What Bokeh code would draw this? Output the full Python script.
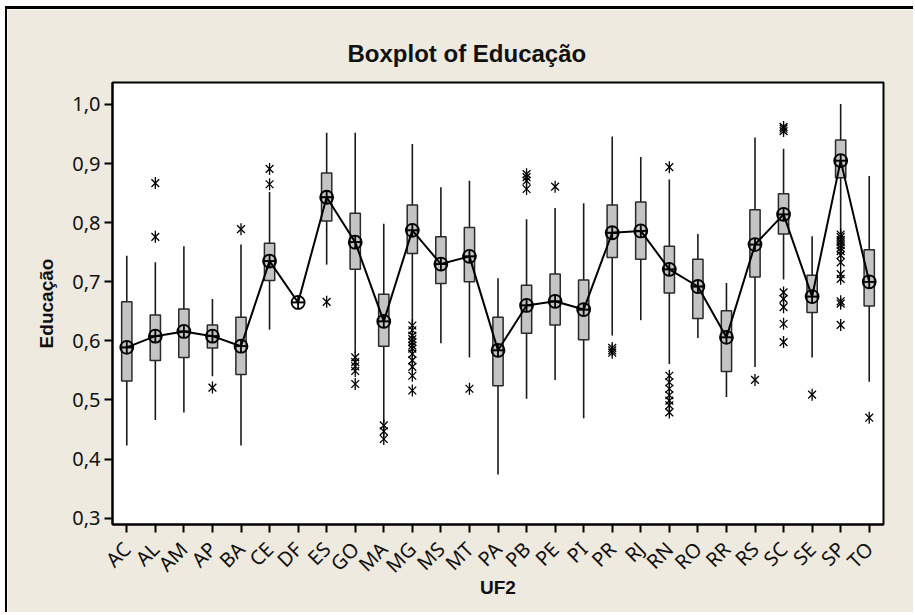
import math
from bokeh.plotting import figure
from bokeh.models import FactorRange, Range1d, FixedTicker, CustomJSTickFormatter, ColumnDataSource
from bokeh.embed import file_html
from bokeh.resources import INLINE

NaN = float("nan")

categories = ["AC", "AL", "AM", "AP", "BA", "CE", "DF", "ES", "GO", "MA", "MG", "MS", "MT", "PA",
              "PB", "PE", "PI", "PR", "RJ", "RN", "RO", "RR", "RS", "SC", "SE", "SP", "TO"]

whisker_low = [0.423, 0.466, 0.479, 0.540, 0.423, 0.619, NaN, 0.729, 0.579, 0.462, 0.626, 0.596, 0.572, 0.374,
               0.502, 0.534, 0.469, 0.609, 0.635, 0.561, 0.605, 0.505, 0.556, 0.704, 0.572, 0.781, 0.531]
q1 = [0.532, 0.567, 0.572, 0.588, 0.543, 0.702, NaN, 0.803, 0.721, 0.591, 0.748, 0.697, 0.700, 0.524,
      0.613, 0.627, 0.602, 0.741, 0.738, 0.681, 0.638, 0.548, 0.708, 0.781, 0.648, 0.876, 0.659]
median = [0.589, 0.608, 0.616, 0.608, 0.591, 0.735, 0.665, 0.843, 0.767, 0.633, 0.787, 0.730, 0.743, 0.584,
          0.660, 0.667, 0.653, 0.783, 0.786, 0.721, 0.692, 0.606, 0.763, 0.814, 0.675, 0.905, 0.700]
q3 = [0.666, 0.644, 0.654, 0.627, 0.640, 0.765, NaN, 0.884, 0.816, 0.679, 0.830, 0.776, 0.792, 0.640,
      0.694, 0.713, 0.703, 0.830, 0.835, 0.760, 0.738, 0.651, 0.822, 0.849, 0.711, 0.940, 0.754]
whisker_high = [0.744, 0.733, 0.760, 0.671, 0.763, 0.852, NaN, 0.952, 0.952, 0.798, 0.933, 0.860, 0.871, 0.706,
                0.806, 0.825, 0.833, 0.946, 0.911, 0.873, 0.781, 0.698, 0.944, 0.925, 0.777, 1.001, 0.879]
means = [0.589, 0.608, 0.616, 0.608, 0.591, 0.735, 0.665, 0.843, 0.767, 0.633, 0.787, 0.730, 0.743, 0.584,
         0.660, 0.667, 0.653, 0.783, 0.786, 0.721, 0.692, 0.606, 0.763, 0.814, 0.675, 0.905, 0.700]

outlier_cat = (["AL"] * 2 + ["AP"] + ["BA"] + ["CE"] * 2 + ["ES"] + ["GO"] * 5 + ["MA"] * 3 + ["MG"] * 12 +
               ["MT"] + ["PB"] * 4 + ["PE"] + ["PR"] * 3 + ["RN"] * 8 + ["RS"] + ["SC"] * 8 + ["SE"] +
               ["SP"] * 14 + ["TO"])
outlier_val = ([0.867, 0.776] + [0.521] + [0.789] + [0.891, 0.865] + [0.666] +
               [0.572, 0.564, 0.557, 0.549, 0.527] + [0.457, 0.447, 0.434] +
               [0.626, 0.618, 0.609, 0.603, 0.598, 0.592, 0.587, 0.578, 0.567, 0.556, 0.541, 0.516] +
               [0.519] + [0.882, 0.877, 0.871, 0.857] + [0.861] + [0.588, 0.584, 0.580] +
               [0.894, 0.541, 0.530, 0.519, 0.508, 0.499, 0.491, 0.479] + [0.534] +
               [0.962, 0.959, 0.955, 0.682, 0.671, 0.657, 0.629, 0.598] + [0.509] +
               [0.780, 0.776, 0.771, 0.767, 0.762, 0.757, 0.752, 0.745, 0.733, 0.713, 0.705, 0.667, 0.663, 0.627] +
               [0.470])

y_ticks = [0.3, 0.4, 0.5, 0.6, 0.7, 0.8, 0.9, 1.0]

BEIGE = "#EEEAE0"
TICK_FONT = "Noto Sans"
LABEL_FONT = "Liberation Sans"

p = figure(width=908, height=606, x_range=FactorRange(*categories), y_range=Range1d(0.2893, 1.0372),
           output_backend="svg", toolbar_location=None,
           min_border_left=105, min_border_right=32, min_border_top=73, min_border_bottom=91,
           border_fill_color=BEIGE, background_fill_color="white",
           outline_line_color="black", outline_line_width=2,
           margin=(6, 0, 0, 5),
           styles={"border-top": "3px solid #000", "border-left": "2px solid #000"})

p.title.text = "Boxplot of Educação"
p.title.text_font = LABEL_FONT
p.title.text_font_size = "24px"
p.title.text_font_style = "bold"
p.title.text_color = "#111111"
p.title.align = "left"
p.title.offset = 235
p.title.standoff = 31

p.xgrid.visible = False
p.ygrid.visible = False

for ax in (p.xaxis[0], p.yaxis[0]):
    ax.axis_line_color = "black"
    ax.axis_line_width = 2
    ax.major_tick_line_color = "black"
    ax.major_tick_line_width = 2
    ax.major_tick_out = 8
    ax.major_tick_in = 0
    ax.minor_tick_line_color = None
    ax.major_label_text_font = TICK_FONT
    ax.major_label_text_font_size = "20px"
    ax.major_label_text_color = "#111111"
    ax.axis_label_text_font = LABEL_FONT
    ax.axis_label_text_font_size = "19px"
    ax.axis_label_text_font_style = "bold"
    ax.axis_label_text_color = "#111111"

p.yaxis.ticker = FixedTicker(ticks=y_ticks)
p.yaxis.formatter = CustomJSTickFormatter(code="return tick.toFixed(1).replace('.', ',');")
p.yaxis.axis_label = "Educação"
p.yaxis.major_label_standoff = 4
p.yaxis.axis_label_standoff = 12

p.xaxis.axis_label = "UF2"
p.xaxis.major_label_orientation = math.pi / 4
p.xaxis.major_label_standoff = 13
p.xaxis.axis_label_standoff = -14

src = ColumnDataSource(dict(cat=categories, lo=whisker_low, q1=q1, med=median, q3=q3, hi=whisker_high, mean=means))

p.segment(x0="cat", y0="q3", x1="cat", y1="hi", source=src, line_color="#1a1a1a", line_width=1.6)
p.segment(x0="cat", y0="q1", x1="cat", y1="lo", source=src, line_color="#1a1a1a", line_width=1.6)
p.vbar(x="cat", bottom="q1", top="q3", width=0.36, source=src,
       fill_color="#C4C4C4", line_color="#2a2a2a", line_width=1.5)
p.scatter(x="cat", y="med", marker="dash", size=10, line_color="#2a2a2a", line_width=1.5, source=src)

# Minitab-style six-armed asterisk: an x plus a vertical stroke
p.scatter(x=outlier_cat, y=outlier_val, marker="x", size=11, line_color="black", line_width=1.3)
p.scatter(x=outlier_cat, y=outlier_val, marker="dash", angle=math.pi / 2, size=12,
          line_color="black", line_width=1.3)

p.line(x="cat", y="mean", source=src, line_color="black", line_width=2)
p.scatter(x="cat", y="mean", marker="circle_cross", size=13, fill_color=None,
          line_color="black", line_width=1.8, source=src)

open("out.html", "w").write(file_html(p, INLINE))
